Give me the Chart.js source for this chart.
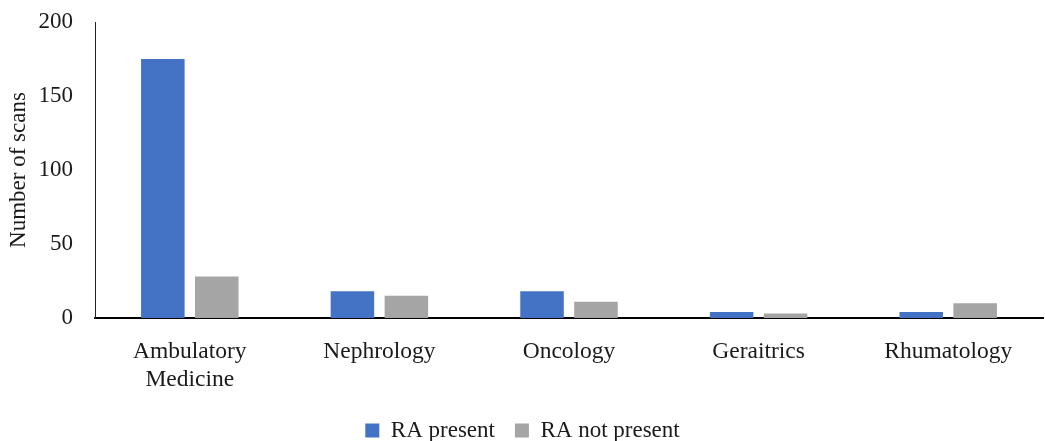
<!DOCTYPE html>
<html>
<head>
<meta charset="utf-8">
<script src="https://cdn.jsdelivr.net/npm/chart.js@4"></script>
<style>
html,body{margin:0;padding:0;background:#fff;}
#wrap{width:1045px;height:441px;position:relative;}
</style>
</head>
<body>
<div id="wrap"><canvas id="c"></canvas></div>
<script>
const categories = [["Ambulatory","Medicine"], "Nephrology", "Oncology", "Geraitrics", "Rhumatology"];
const raPresent = [175, 18, 18, 4, 4];
const raNotPresent = [28, 15, 11, 3, 10];
const yTicks = [0, 50, 100, 150, 200];

const FONT = "'Liberation Serif', serif";
new Chart(document.getElementById('c'), {
  type: 'bar',
  data: {
    labels: categories,
    datasets: [
      { label: 'RA present', data: raPresent, backgroundColor: '#4472c4', barPercentage: 0.807, categoryPercentage: 0.569 },
      { label: 'RA not present', data: raNotPresent, backgroundColor: '#a5a5a5', barPercentage: 0.807, categoryPercentage: 0.569 }
    ]
  },
  options: {
    responsive: true,
    maintainAspectRatio: false,
    animation: false,
    layout: { padding: { top: 0, right: 2, left: 2, bottom: -11 } },
    plugins: {
      legend: {
        position: 'bottom',
        labels: { boxWidth: 14, boxHeight: 14, color: '#1a1a1a', font: { family: FONT, size: 23 }, padding: 20 }
      },
      tooltip: { enabled: false }
    },
    scales: {
      x: {
        grid: { display: false, drawTicks: false },
        border: { display: true, color: '#000', width: 2 },
        afterFit: (s) => { s.height = 81; },
        ticks: { color: '#1a1a1a', font: { family: FONT, size: 23.5, lineHeight: 1.22 }, padding: 19 }
      },
      y: {
        min: 0, max: 200,
        afterBuildTicks: (s) => { s.ticks = yTicks.map(v => ({ value: v })); },
        afterFit: (s) => { s.width = 93; s.paddingTop = 22; s.paddingBottom = 0; },
        grid: { display: false, drawTicks: false },
        border: { display: true, color: '#222', width: 1 },
        title: { display: true, text: 'Number of scans', color: '#1a1a1a', font: { family: FONT, size: 23 }, padding: { top: 3, bottom: 0 } },
        ticks: { color: '#1a1a1a', font: { family: FONT, size: 23 }, padding: 22 }
      }
    }
  }
});
</script>
</body>
</html>
